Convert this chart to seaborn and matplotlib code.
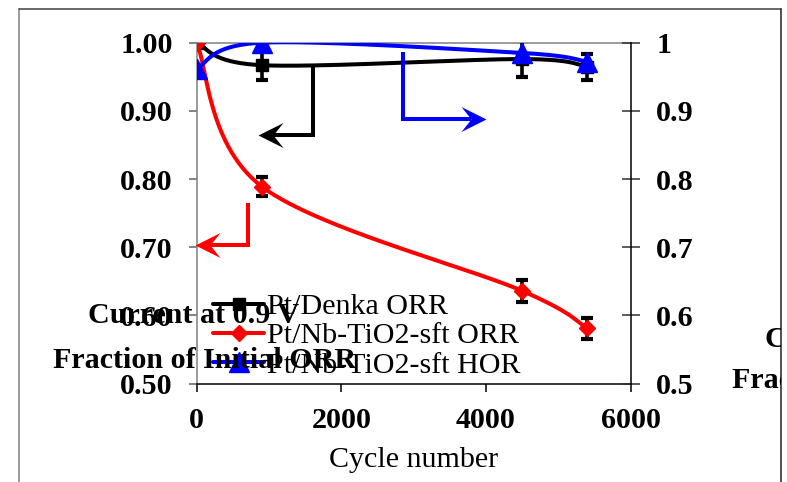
import numpy as np
import pandas as pd
import matplotlib
matplotlib.use("Agg")
import matplotlib.pyplot as plt
import seaborn as sns
from matplotlib.lines import Line2D
from matplotlib.path import Path
from matplotlib.markers import MarkerStyle
from matplotlib.transforms import Bbox, TransformedBbox
from matplotlib.ticker import FixedLocator, FuncFormatter

# ---- data -------------------------------------------------------------
cycles = [0, 900, 4500, 5400]
denka_orr = [1.000, 0.967, 0.976, 0.965]
denka_orr_err = [0.0, 0.022, 0.026, 0.019]
nbtio2_orr = [1.000, 0.789, 0.636, 0.581]
nbtio2_orr_err = [0.0, 0.014, 0.016, 0.015]
nbtio2_hor = [0.962, 1.000, 0.985, 0.972]

series_labels = ["Pt/Denka ORR", "Pt/Nb-TiO2-sft ORR", "Pt/Nb-TiO2-sft HOR"]
x_label = "Cycle number"
y_label_lines = ["Current at 0.9 V", "Fraction of Initial ORR"]
x_ticks = [0, 2000, 4000, 6000]
y_ticks = [0.5, 0.6, 0.7, 0.8, 0.9, 1.0]

# ---- style ------------------------------------------------------------
sns.set_theme(style="white")
plt.rcParams["font.family"] = ["Liberation Serif", "DejaVu Serif"]
plt.rcParams["font.weight"] = "bold"
FS = 21.6

W, H = 787, 482
fig = plt.figure(figsize=(W / 100, H / 100), dpi=100)
fig.patch.set_facecolor("white")

# axes box in pixels
x0, x1, ytop, ybot = 196.7, 630.5, 42.7, 383.5
ax = fig.add_axes([x0 / W, (H - ybot) / H, (x1 - x0) / W, (ybot - ytop) / H])
ax.set_facecolor("white")
ax.set_xlim(0, 6000)
ax.set_ylim(0.5, 1.0)
ax2 = ax.twinx()
ax2.set_ylim(0.5, 1.0)


def excel_smooth(axis, xs, ys, n=60):
    """Bezier smoothing through the points, computed in display space."""
    pts = axis.transData.transform(np.column_stack([xs, ys]))
    m = len(pts)
    out = [pts[0]]
    t = np.linspace(0, 1, n)[1:, None]
    for i in range(m - 1):
        pa = pts[max(i - 1, 0)]
        p1 = pts[i]
        p2 = pts[i + 1]
        pb = pts[min(i + 2, m - 1)]
        c1 = p1 + (p2 - pa) / 6.0
        c2 = p2 - (pb - p1) / 6.0
        seg = ((1 - t) ** 3) * p1 + 3 * ((1 - t) ** 2) * t * c1 \
            + 3 * (1 - t) * t ** 2 * c2 + t ** 3 * p2
        out.extend(seg)
    out = axis.transData.inverted().transform(np.array(out))
    return pd.DataFrame({"cycle": out[:, 0], "value": out[:, 1]})


LW = 2.9
series = [
    (ax, denka_orr, denka_orr_err, "black", "s", 9),
    (ax, nbtio2_orr, nbtio2_orr_err, "#FF0000", "D", 8.6),
    (ax2, nbtio2_hor, None, "#0000FF", "^", 14),
]
handles = []
for axis, vals, err, col, mk, ms in series:
    curve = excel_smooth(axis, cycles, vals)
    sns.lineplot(data=curve, x="cycle", y="value", ax=axis, color=col,
                 lw=LW, sort=False, estimator=None, legend=False)
    if err is not None:
        axis.errorbar(cycles, vals, yerr=err, fmt="none", ecolor="black",
                      elinewidth=2.6, capsize=4.2, capthick=3.0, zorder=3)
    axis.plot(cycles, vals, ls="none", marker=mk, ms=ms, color=col,
              mec=col, zorder=4)
    handles.append(Line2D([], [], color=col, lw=LW, marker=mk, ms=ms, mec=col))

# ---- axes decoration -------------------------------------------------
for a in (ax, ax2):
    a.set_xlabel("")
    a.set_ylabel("")
    a.grid(False)

ax.spines["right"].set_visible(False)
ax.spines["left"].set_color("#808080")
ax.spines["top"].set_color("#808080")
ax.spines["bottom"].set_color("black")
for s in ("left", "top", "bottom"):
    ax2.spines[s].set_visible(False)
ax2.spines["right"].set_color("black")
for a in (ax, ax2):
    for s in a.spines.values():
        s.set_linewidth(1.1)

ax.xaxis.set_major_locator(FixedLocator(x_ticks))
ax.yaxis.set_major_locator(FixedLocator(y_ticks))
ax2.yaxis.set_major_locator(FixedLocator(y_ticks))
ax.yaxis.set_major_formatter(FuncFormatter(lambda v, p: f"{v:.2f}"))
ax2.yaxis.set_major_formatter(FuncFormatter(lambda v, p: f"{v:g}"))

ax.tick_params(axis="x", bottom=True, direction="out", length=5.8, width=1.1,
               color="black", pad=11, labelsize=FS, labelcolor="black")
ax.tick_params(axis="y", left=True, direction="out", length=5.8, width=1.1,
               color="#606060", pad=11.5, labelsize=FS, labelcolor="black")
ax2.tick_params(axis="y", right=True, direction="inout", length=13, width=1.1,
                color="#303030", pad=12, labelsize=FS, labelcolor="black")

ax.set_xlabel(x_label, fontsize=FS, fontweight="normal", color="black")
ax.xaxis.set_label_coords(0.5, (ybot - 467) / (ybot - ytop))
ax.xaxis.label.set_va("baseline")

# y-axis titles, set horizontally on both sides (right one runs past the frame)
clip = TransformedBbox(Bbox([[19 / W, 0], [781 / W, 1]]), fig.transFigure)
title_spots = [
    [(88, 323), (53, 368)],      # left side: (x start, baseline) per line
    [(765, 347), (732, 388)],    # right side
]
for spots in title_spots:
    for text, (px, py) in zip(y_label_lines, spots):
        t = fig.text(px / W, 1 - py / H, text, fontsize=FS, fontweight="bold",
                     color="black", ha="left", va="baseline")
        t.set_clip_box(clip)
        t.set_clip_on(True)

# ---- direction arrows ------------------------------------------------
HEAD_L, HEAD_W, NOTCH = 25.0, 12.5, 15.0   # arrow head size in pixels
stealth_left = Path([(0, 0), (HEAD_L, HEAD_W), (NOTCH, 0), (HEAD_L, -HEAD_W), (0, 0)],
                    [Path.MOVETO, Path.LINETO, Path.LINETO, Path.LINETO, Path.CLOSEPOLY])
stealth_right = Path([(-x, y) for x, y in stealth_left.vertices], stealth_left.codes)

arrows = [
    ([1610, 1610, 849], [0.964, 0.865, 0.865], "black", stealth_left),
    ([2853, 2853, 4006], [0.987, 0.888, 0.888], "#0000FF", stealth_right),
    ([715, 715, -24], [0.765, 0.703, 0.703], "#FF0000", stealth_left),
]
for xs, ys, col, head in arrows:
    # shaft stops at the notch of the head
    disp = ax.transData.transform(np.column_stack([xs, ys]))
    direction = np.sign(disp[-1, 0] - disp[-2, 0])
    disp[-1, 0] -= direction * NOTCH
    shaft = ax.transData.inverted().transform(disp)
    ax2.plot(shaft[:, 0], shaft[:, 1], color=col, lw=LW, solid_joinstyle="miter",
             solid_capstyle="butt", clip_on=False, zorder=5)
    ax2.plot([xs[-1]], [ys[-1]], ls="none", marker=MarkerStyle(head),
             ms=2 * HEAD_L * 72 / 100, color=col, mec=col, mew=0,
             clip_on=False, zorder=5)

# ---- legend ----------------------------------------------------------
leg = ax2.legend(handles, series_labels, loc="upper left",
                 bbox_to_anchor=((213 - x0) / (x1 - x0), (ybot - 293) / (ybot - ytop)),
                 frameon=False, handlelength=1.7, handletextpad=0.1,
                 labelspacing=0.08, borderpad=0, borderaxespad=0,
                 prop={"family": "Liberation Serif", "size": FS, "weight": "normal"})
for t in leg.get_texts():
    t.set_color("black")

# ---- outer frame -----------------------------------------------------
fx0, fx1, fy = 19 / W, 781 / W, 1 - 9 / H
fig.add_artist(Line2D([fx0, fx0], [-0.1, fy], transform=fig.transFigure,
                      color="#808080", lw=1.1))
fig.add_artist(Line2D([fx0, fx1], [fy, fy], transform=fig.transFigure,
                      color="#404040", lw=1.1))
fig.add_artist(Line2D([fx1, fx1], [-0.1, fy], transform=fig.transFigure,
                      color="#202020", lw=1.1))

fig.savefig("out.png", dpi=100, facecolor="white")
